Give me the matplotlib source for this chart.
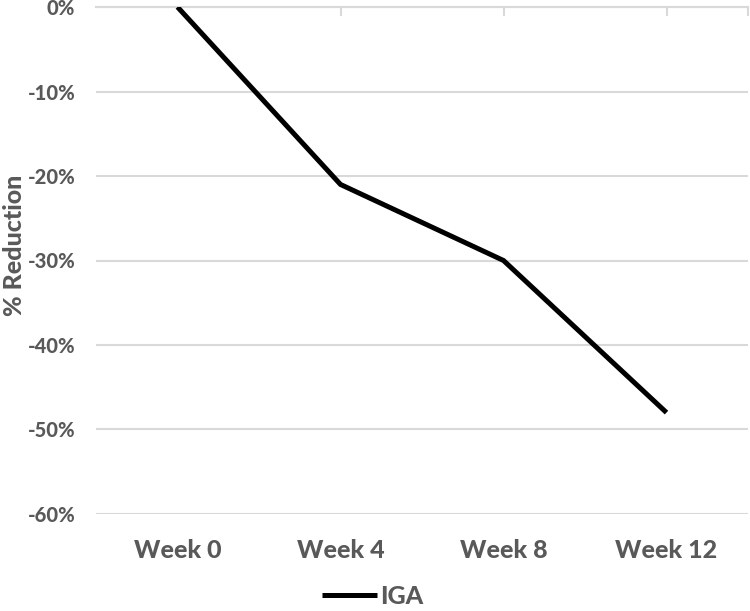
import matplotlib
matplotlib.use("Agg")
import matplotlib.pyplot as plt
from matplotlib.ticker import PercentFormatter

weeks = ["Week 0", "Week 4", "Week 8", "Week 12"]
iga = [0.0, -21.0, -30.0, -48.0]
yticks = [0, -10, -20, -30, -40, -50, -60]

GRAY = "#595959"
GRID = "#d9d9d9"
W = "black"  # heavy weight, close to the bold Calibri look

plt.rcParams["font.family"] = ["Lato", "DejaVu Sans"]
plt.rcParams["axes.unicode_minus"] = False

fig = plt.figure(figsize=(7.5, 6.11), dpi=100)
ax = fig.add_axes([96 / 750, 1 - 514 / 611, 652 / 750, 507 / 611])

x = list(range(len(weeks)))
ax.plot(x, iga, color="black", linewidth=3.6, label="IGA", solid_capstyle="butt",
        solid_joinstyle="miter", zorder=3)

ax.set_xlim(-0.5, 3.5)
ax.set_ylim(-60, 0)
ax.set_yticks(yticks)
ax.yaxis.set_major_formatter(PercentFormatter(decimals=0))
ax.grid(axis="y", color=GRID, linewidth=1.5)
ax.set_axisbelow(True)

for s in ["left", "right", "bottom"]:
    ax.spines[s].set_visible(False)
ax.spines["top"].set_color(GRID)
ax.spines["top"].set_linewidth(1.5)

# category labels at bottom, tick marks along the top (zero) line
ax.set_xticks(x)
ax.set_xticklabels(weeks, fontsize=18, color=GRAY, fontweight=W)
ax.tick_params(axis="x", length=0, pad=18)
for xt in [1, 2, 3, 3.5]:
    ax.plot([xt, xt], [0, -0.9], color=GRID, linewidth=1.5, clip_on=False, zorder=1)

ax.tick_params(axis="y", length=0, pad=15, labelsize=14.5, labelcolor=GRAY)
for lab in ax.get_yticklabels():
    lab.set_fontweight(W)

fig.text(15 / 750, 1 - 245 / 611, "% Reduction", rotation=90, ha="center", va="center",
         fontsize=18, color=GRAY, fontweight=W)

leg = fig.legend(loc="lower center", bbox_to_anchor=(0.497, -0.032), frameon=False,
                 fontsize=18, handlelength=2.2, handletextpad=0.1,
                 labelcolor=GRAY, prop={"weight": W, "size": 18})

fig.savefig("out.png", dpi=100)
